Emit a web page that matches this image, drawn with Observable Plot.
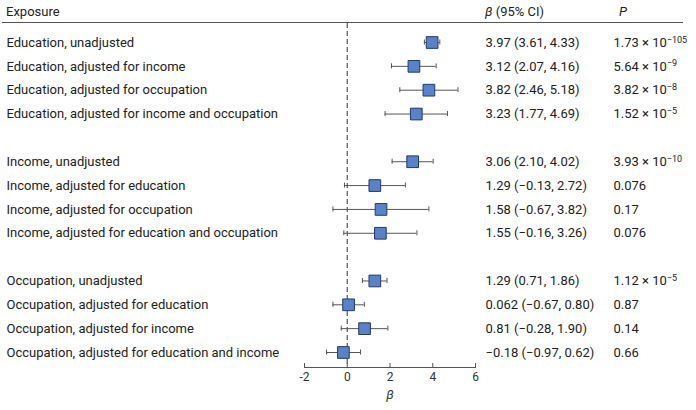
<!DOCTYPE html>
<html>
<head>
<meta charset="utf-8">
<script src="https://cdn.jsdelivr.net/npm/d3@7"></script>
<script src="https://cdn.jsdelivr.net/npm/@observablehq/plot@0.6"></script>
<style>
  body { margin: 0; background: #fff; font-family: Roboto, "Noto Sans", sans-serif; color: #222; }
  #wrap { position: relative; width: 696px; height: 410px; }
  #head { position: relative; margin-left: 2px; width: 681px; height: 22px; border-bottom: 1px solid #555; font-size: 13px; }
  #head span { position: absolute; top: 4px; }
  svg { display: block; }
</style>
</head>
<body>
<div id="wrap">
  <div id="head">
    <span style="left:4px">Exposure</span>
    <span style="left:483px"><i>β</i> (95% CI)</span>
    <span style="left:617px"><i>P</i></span>
  </div>
  <div id="chart"></div>
</div>
<script>
const groups = ["Education", "Income", "Occupation"];
const exposures = [
  "Education, unadjusted",
  "Education, adjusted for income",
  "Education, adjusted for occupation",
  "Education, adjusted for income and occupation",
  "Income, unadjusted",
  "Income, adjusted for education",
  "Income, adjusted for occupation",
  "Income, adjusted for education and occupation",
  "Occupation, unadjusted",
  "Occupation, adjusted for education",
  "Occupation, adjusted for income",
  "Occupation, adjusted for education and income"
];
const beta   = [3.97, 3.12, 3.82, 3.23, 3.06, 1.29, 1.58, 1.55, 1.29, 0.062, 0.81, -0.18];
const ciLow  = [3.61, 2.07, 2.46, 1.77, 2.10, -0.13, -0.67, -0.16, 0.71, -0.67, -0.28, -0.97];
const ciHigh = [4.33, 4.16, 5.18, 4.69, 4.02, 2.72, 3.82, 3.26, 1.86, 0.80, 1.90, 0.62];
const estimateLabels = [
  "3.97 (3.61, 4.33)", "3.12 (2.07, 4.16)", "3.82 (2.46, 5.18)", "3.23 (1.77, 4.69)",
  "3.06 (2.10, 4.02)", "1.29 (−0.13, 2.72)", "1.58 (−0.67, 3.82)", "1.55 (−0.16, 3.26)",
  "1.29 (0.71, 1.86)", "0.062 (−0.67, 0.80)", "0.81 (−0.28, 1.90)", "−0.18 (−0.97, 0.62)"
];
const pLabels = [
  "1.73 × 10⁻¹⁰⁵", "5.64 × 10⁻⁹", "3.82 × 10⁻⁸", "1.52 × 10⁻⁵",
  "3.93 × 10⁻¹⁰", "0.076", "0.17", "0.076",
  "1.12 × 10⁻⁵", "0.87", "0.14", "0.66"
];
const xTicks = [-2, 0, 2, 4, 6];
const xLabel = "β";

const perGroup = exposures.length / groups.length;
const rows = exposures.map((label, i) => ({
  label,
  row: i + Math.floor(i / perGroup),
  beta: beta[i],
  lo: ciLow[i],
  hi: ciHigh[i],
  est: estimateLabels[i],
  p: pLabels[i]
}));
const nRows = d3.max(rows, d => d.row);

const W = 696, H = 387;
const mLeft = 304, mRight = 221, mTop = 0, mBottom = 43;
const frameH = H - mTop - mBottom;
const ink = "#222";
const lineCol = "#555";

const chart = Plot.plot({
  width: W,
  height: H,
  marginLeft: mLeft,
  marginRight: mRight,
  marginTop: mTop,
  marginBottom: mBottom,
  style: { fontFamily: "Roboto, 'Noto Sans', sans-serif", fontSize: "13px", color: ink, background: "#fff" },
  x: { domain: [xTicks[0], xTicks[xTicks.length - 1]], axis: null },
  y: { domain: [0, nRows], range: [19, 329], axis: null },
  marks: [
    Plot.ruleX([0], { stroke: lineCol, strokeDasharray: "5,3", strokeWidth: 1.2 }),
    Plot.frame({ anchor: "bottom", stroke: lineCol }),
    Plot.ruleX(xTicks, { x: d => d, stroke: lineCol, insetTop: frameH - 4 }),
    Plot.text(xTicks, { x: d => d, frameAnchor: "bottom", dy: 13, text: d => d3.format("")(d).replace("−", "-"), fill: "#333", fontSize: 12 }),
    Plot.text([xLabel], { frameAnchor: "bottom", dy: 31, text: d => d, fontStyle: "italic", fill: "#333", fontSize: 13 }),
    Plot.ruleY(rows, { y: "row", x1: "lo", x2: "hi", stroke: lineCol, strokeWidth: 1 }),
    Plot.ruleX(rows, { x: "lo", y1: "row", y2: "row", insetTop: -2.5, insetBottom: -2.5, stroke: lineCol }),
    Plot.ruleX(rows, { x: "hi", y1: "row", y2: "row", insetTop: -2.5, insetBottom: -2.5, stroke: lineCol }),
    Plot.dot(rows, { x: "beta", y: "row", symbol: "square", r: 6.6, fill: "#5a82c6", stroke: "#26396a", strokeWidth: 1 }),
    Plot.text(rows, { y: "row", text: "label", frameAnchor: "left", dx: -298, textAnchor: "start", fill: ink }),
    Plot.text(rows, { y: "row", text: "est", frameAnchor: "right", dx: 10, textAnchor: "start", fill: ink }),
    Plot.text(rows, { y: "row", text: "p", frameAnchor: "right", dx: 138, textAnchor: "start", fill: ink })
  ]
});

// Render exponents of P values as raised smaller text
const supMap = { "⁻": "−", "⁰": "0", "¹": "1", "²": "2", "³": "3", "⁴": "4", "⁵": "5", "⁶": "6", "⁷": "7", "⁸": "8", "⁹": "9" };
d3.select(chart).selectAll("text").each(function () {
  const t = this.textContent;
  const m = t.match(/^(.* × 10)([⁻⁰¹²³⁴⁵⁶⁷⁸⁹]+)$/);
  if (!m) return;
  const sel = d3.select(this);
  sel.text(null);
  sel.append("tspan").text(m[1]);
  sel.append("tspan")
    .attr("dy", "-0.45em")
    .attr("font-size", "9px")
    .text(Array.from(m[2]).map(c => supMap[c]).join(""));
});

document.getElementById("chart").appendChild(chart);
</script>
</body>
</html>
